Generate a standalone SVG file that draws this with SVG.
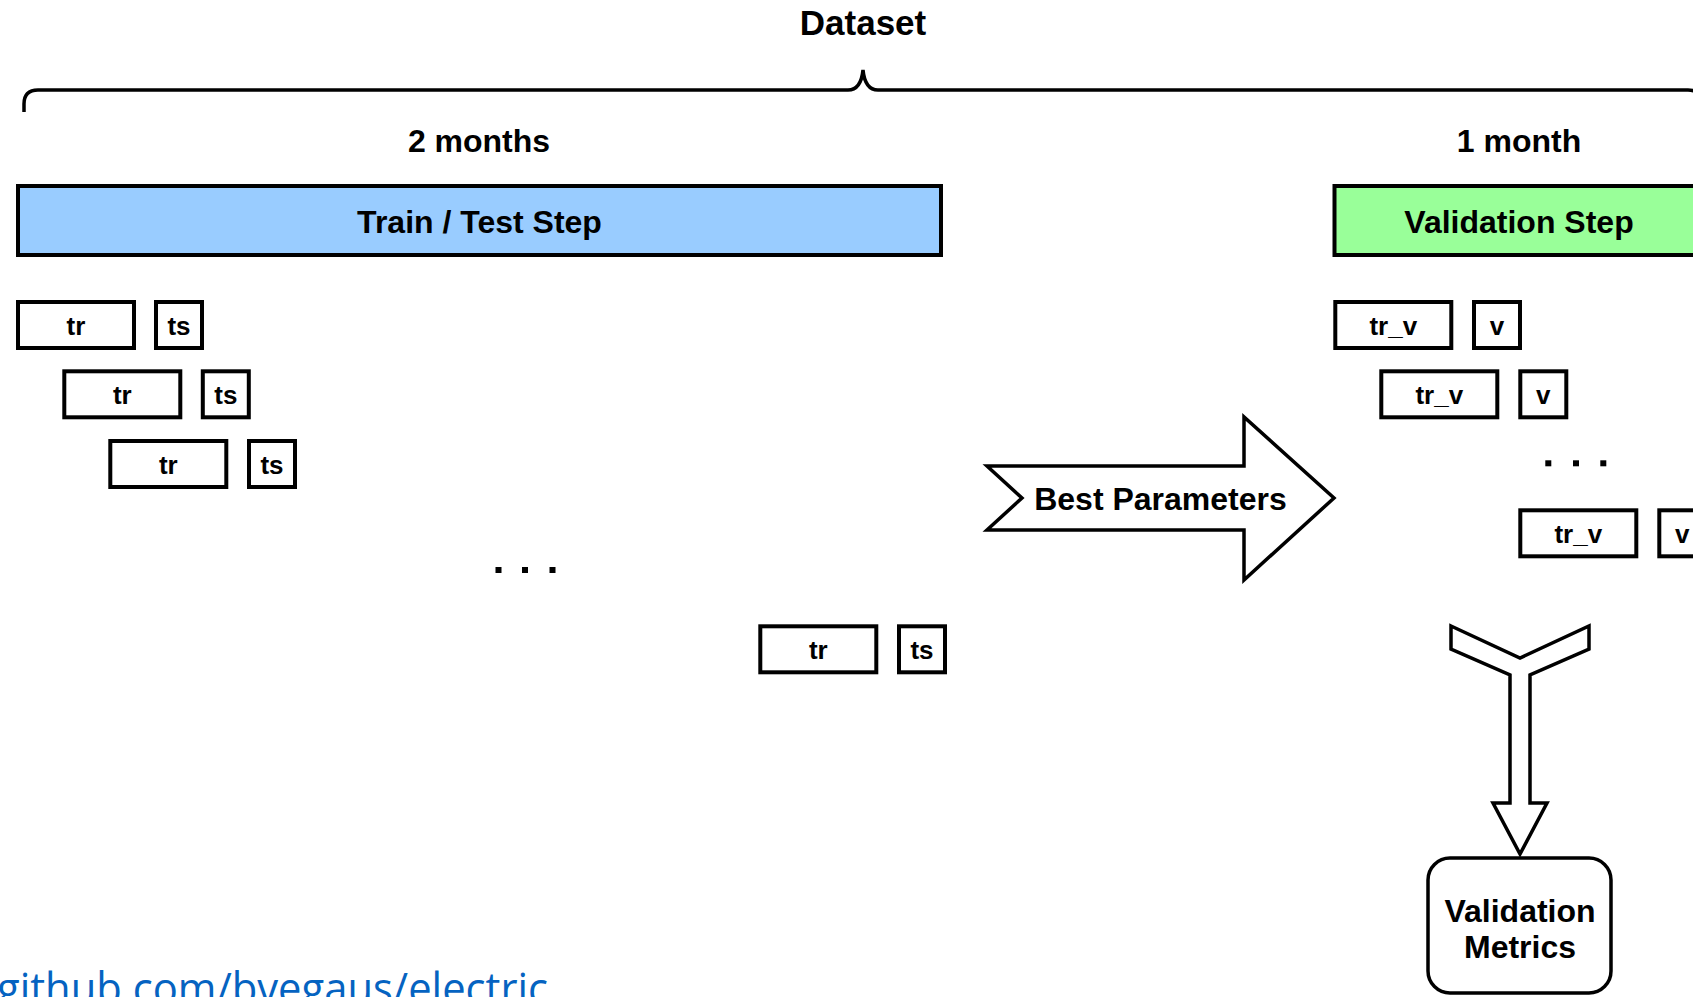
<svg xmlns="http://www.w3.org/2000/svg" width="1693" height="997" viewBox="0 0 1693 997">
<style>
.lbl{font-family:"Liberation Sans",Arial,Helvetica,sans-serif;font-weight:bold;fill:#000;text-anchor:middle}
.big{font-size:32px}
.sm{font-size:26px}
.box{fill:#fff;stroke:#000;stroke-width:4}
.shape{fill:#fff;stroke:#000;stroke-width:3.5;stroke-linejoin:miter}
.dot{fill:#000}
</style>
<rect width="1693" height="997" fill="#fff"/>
<g id="dataset">
<path d="M24 112 V104 Q24 90 38 90 H848 Q861 90 863 70 Q865 90 878 90 H1688 Q1702 90 1702 104 V112" fill="none" stroke="#000" stroke-width="3.5"/>
<text class="lbl" x="863" y="35" font-size="35">Dataset</text>
</g>
<g id="train-test-step">
<text class="lbl big" x="479" y="152">2 months</text>
<rect x="18" y="186" width="923" height="69" fill="#99CCFF" stroke="#000" stroke-width="4"/>
<text class="lbl big" x="479.5" y="233">Train / Test Step</text>
</g>
<g id="validation-step">
<text class="lbl big" x="1519" y="152">1 month</text>
<rect x="1334.5" y="186" width="370" height="69" fill="#99FF99" stroke="#000" stroke-width="4"/>
<text class="lbl big" x="1519" y="233">Validation Step</text>
</g>
<g id="train-row-1">
<rect class="box" x="18" y="302" width="116" height="46"/><text class="lbl sm" x="76" y="335">tr</text>
<rect class="box" x="156" y="302" width="46" height="46"/><text class="lbl sm" x="179" y="335">ts</text>
</g>
<g id="train-row-2">
<rect class="box" x="64.3" y="371.3" width="116" height="46"/><text class="lbl sm" x="122.3" y="404.3">tr</text>
<rect class="box" x="202.8" y="371.3" width="46" height="46"/><text class="lbl sm" x="225.8" y="404.3">ts</text>
</g>
<g id="train-row-3">
<rect class="box" x="110.3" y="441" width="116" height="46"/><text class="lbl sm" x="168.3" y="474">tr</text>
<rect class="box" x="249" y="441" width="46" height="46"/><text class="lbl sm" x="272" y="474">ts</text>
</g>
<g id="train-dots">
<rect class="dot" x="495.5" y="567" width="6" height="6"/>
<rect class="dot" x="522" y="567" width="6" height="6"/>
<rect class="dot" x="549.5" y="567" width="6" height="6"/>
</g>
<g id="train-row-last">
<rect class="box" x="760.3" y="626.3" width="116" height="46"/><text class="lbl sm" x="818.3" y="659.3">tr</text>
<rect class="box" x="899" y="626.3" width="46" height="46"/><text class="lbl sm" x="922" y="659.3">ts</text>
</g>
<g id="val-row-1">
<rect class="box" x="1335.3" y="302" width="116" height="46"/><text class="lbl sm" x="1393.3" y="335">tr_v</text>
<rect class="box" x="1474" y="302" width="46" height="46"/><text class="lbl sm" x="1497" y="335">v</text>
</g>
<g id="val-row-2">
<rect class="box" x="1381.3" y="371.3" width="116" height="46"/><text class="lbl sm" x="1439.3" y="404.3">tr_v</text>
<rect class="box" x="1520.3" y="371.3" width="46" height="46"/><text class="lbl sm" x="1543.3" y="404.3">v</text>
</g>
<g id="val-dots">
<rect class="dot" x="1545.3" y="460.3" width="6" height="6"/>
<rect class="dot" x="1573" y="460.3" width="6" height="6"/>
<rect class="dot" x="1600.3" y="460.3" width="6" height="6"/>
</g>
<g id="val-row-last">
<rect class="box" x="1520.3" y="510.3" width="116" height="46"/><text class="lbl sm" x="1578.3" y="543.3">tr_v</text>
<rect class="box" x="1659.3" y="510.3" width="46" height="46"/><text class="lbl sm" x="1682.3" y="543.3">v</text>
</g>
<g id="connectors">
<g id="best-parameters">
<path class="shape" d="M987 466 H1244 V417 L1334 498 L1244 580 V530 H987 L1022 498 Z"/>
<text class="lbl big" x="1160.5" y="510">Best Parameters</text>
</g>
<g id="merge-arrow">
<path class="shape" d="M1451 626 L1520 658 L1589 626 V649 L1530 675 V803 L1547 803 L1520 854 L1493 803 L1510 803 V675 L1451 649 Z"/>
</g>
</g>
<g id="validation-metrics">
<rect x="1428" y="858" width="183" height="135" rx="22" ry="22" fill="#fff" stroke="#000" stroke-width="3.5"/>
<text class="lbl big" x="1520" y="921.5">Validation</text>
<text class="lbl big" x="1520" y="957.5">Metrics</text>
</g>
<g id="source-link">
<text x="-3" y="1004" font-family="'Open Sans','Noto Sans',sans-serif" font-size="43" fill="#0563C1" textLength="551" lengthAdjust="spacingAndGlyphs">github.com/bvegaus/electric</text>
</g>
</svg>
